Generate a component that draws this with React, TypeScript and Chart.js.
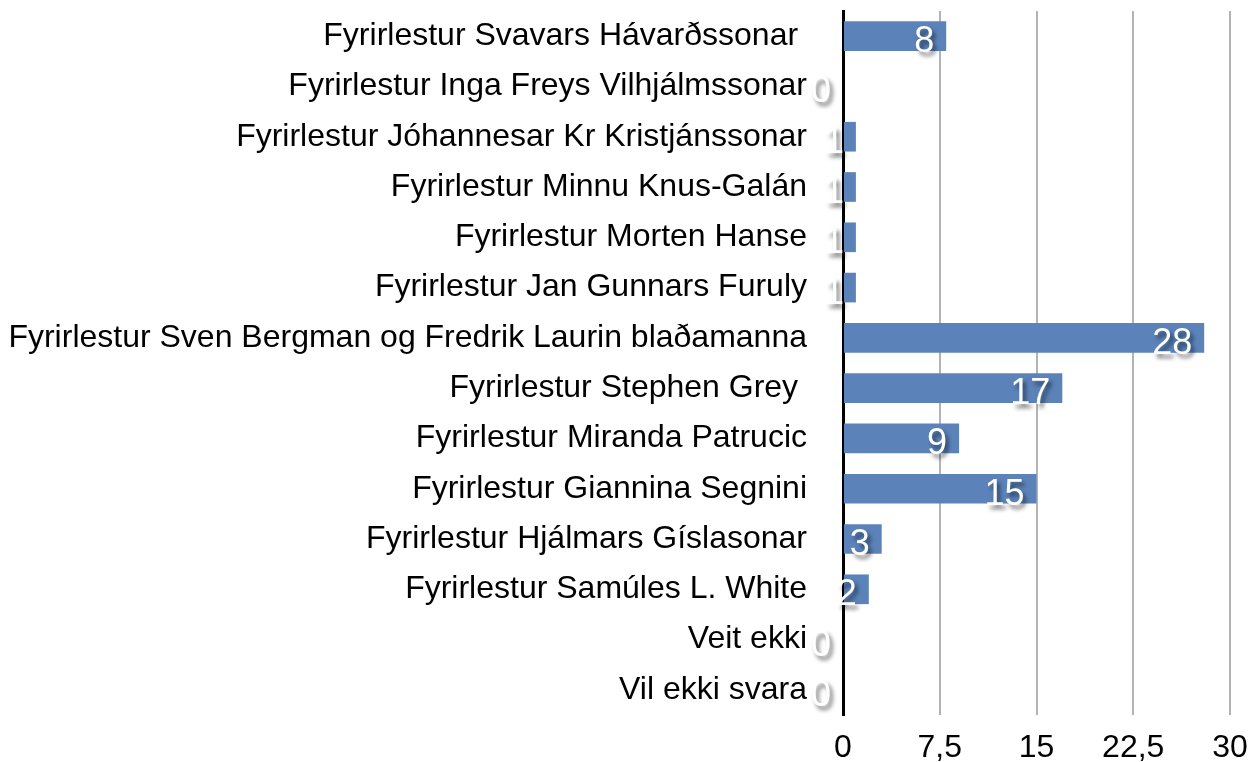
import React, { useEffect, useRef } from "react";
import { Chart, registerables } from "chart.js";

Chart.register(...registerables);

const categories: string[] = [
  "Fyrirlestur Svavars Hávarðssonar ",
  "Fyrirlestur Inga Freys Vilhjálmssonar",
  "Fyrirlestur Jóhannesar Kr Kristjánssonar",
  "Fyrirlestur Minnu Knus-Galán",
  "Fyrirlestur Morten Hanse",
  "Fyrirlestur Jan Gunnars Furuly",
  "Fyrirlestur Sven Bergman og Fredrik Laurin blaðamanna",
  "Fyrirlestur Stephen Grey ",
  "Fyrirlestur Miranda Patrucic",
  "Fyrirlestur Giannina Segnini",
  "Fyrirlestur Hjálmars Gíslasonar",
  "Fyrirlestur Samúles L. White",
  "Veit ekki",
  "Vil ekki svara",
];

const values: number[] = [8, 0, 1, 1, 1, 1, 28, 17, 9, 15, 3, 2, 0, 0];

const xTicks: number[] = [0, 7.5, 15, 22.5, 30];

const FONT = "Helvetica, 'Liberation Sans', Arial, sans-serif";
const BAR_COLOR = "#5b83ba";

const valueLabelPlugin = {
  id: "valueLabels",
  afterDatasetsDraw(chart: any) {
    const ctx = chart.ctx;
    const meta = chart.getDatasetMeta(0);
    ctx.save();
    ctx.font = `36px ${FONT}`;
    ctx.textAlign = "right";
    ctx.textBaseline = "alphabetic";
    ctx.fillStyle = "#ffffff";
    ctx.shadowColor = "rgba(0,0,0,0.55)";
    ctx.shadowOffsetX = 3;
    ctx.shadowOffsetY = 4;
    ctx.shadowBlur = 4;
    meta.data.forEach((bar: any, i: number) => {
      const v = values[i];
      ctx.fillText(String(v), bar.x - 12, bar.y + 16);
    });
    ctx.restore();
  },
};

export default function App() {
  const ref = useRef<HTMLCanvasElement | null>(null);

  useEffect(() => {
    if (!ref.current) return;
    const chart = new Chart(ref.current, {
      type: "bar",
      data: {
        labels: categories,
        datasets: [
          {
            data: values,
            backgroundColor: BAR_COLOR,
            borderWidth: 0,
            categoryPercentage: 0.59,
            barPercentage: 1,
          },
        ],
      },
      options: {
        indexAxis: "y",
        animation: false,
        responsive: false,
        devicePixelRatio: 1,
        layout: { padding: { top: 11, right: 26, left: 0, bottom: 0 } },
        plugins: {
          legend: { display: false },
          tooltip: { enabled: false },
        },
        scales: {
          x: {
            min: 0,
            max: 30,
            afterBuildTicks: (scale: any) => {
              scale.ticks = xTicks.map((v) => ({ value: v }));
            },
            afterFit: (scale: any) => {
              scale.height = 47;
              scale.paddingLeft = 0;
              scale.paddingRight = 0;
              scale.paddingTop = 0;
              scale.paddingBottom = 0;
            },
            grid: {
              color: (c: any) => (c.tick && c.tick.value === 0 ? "rgba(0,0,0,0)" : "#b3b3b3"),
              lineWidth: 2,
              drawTicks: false,
            },
            border: { display: false },
            ticks: {
              color: "#000",
              font: { size: 32, family: FONT },
              padding: 14,
              maxRotation: 0,
              callback: (v: any) => String(v).replace(".", ","),
            },
          },
          y: {
            afterFit: (scale: any) => {
              scale.width = 843;
              scale.paddingLeft = 0;
              scale.paddingRight = 0;
              scale.paddingTop = 0;
              scale.paddingBottom = 0;
            },
            grid: { display: false, drawTicks: false },
            border: { display: true, color: "#000", width: 3 },
            ticks: {
              color: "#000",
              font: { size: 32, family: FONT },
              padding: 36,
              autoSkip: false,
            },
          },
        },
      },
      plugins: [valueLabelPlugin],
    });
    return () => chart.destroy();
  }, []);

  return (
    <div style={{ position: "absolute", left: 0, top: 0, width: 1256, height: 762, background: "#fff" }}>
      <canvas ref={ref} width={1256} height={762} style={{ display: "block" }} />
    </div>
  );
}
